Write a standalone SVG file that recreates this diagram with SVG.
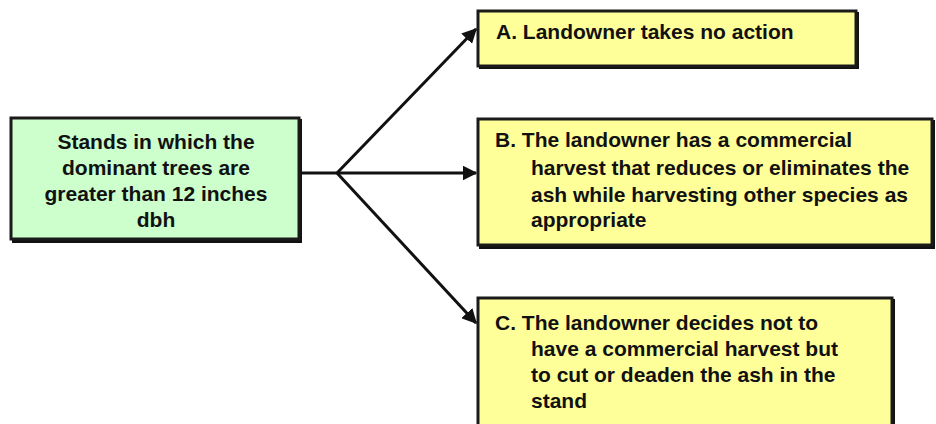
<svg xmlns="http://www.w3.org/2000/svg" width="936" height="424" viewBox="0 0 936 424">
<style>
.box{stroke:#1a1a1a;stroke-width:3}
.shadow{fill:#111}
.green{fill:#ccffcc}
.yellow{fill:#ffff99}
text{font-family:"Liberation Sans",Arial,Helvetica,sans-serif;font-weight:bold;font-size:21px;fill:#111}
.conn{stroke:#111;stroke-width:3;fill:none}
</style>
<defs>
<marker id="arr" viewBox="0 0 10 10" refX="9" refY="5" markerWidth="5" markerHeight="5" orient="auto" markerUnits="strokeWidth">
<path d="M0,0 L10,5 L0,10 z" fill="#111"/>
</marker>
</defs>
<rect width="936" height="424" fill="#ffffff"/>
<g id="connectors">
<line class="conn" x1="300" y1="173" x2="476" y2="173" marker-end="url(#arr)"/>
<line class="conn" x1="337" y1="173" x2="476" y2="29" marker-end="url(#arr)"/>
<line class="conn" x1="337" y1="173" x2="476" y2="323" marker-end="url(#arr)"/>
</g>
<g id="node-stands">
<rect class="shadow" x="12" y="119" width="290" height="124"/>
<rect class="box green" x="11" y="118" width="288" height="121"/>
<text x="156" y="149" text-anchor="middle">Stands in which the</text>
<text x="156" y="175" text-anchor="middle">dominant trees are</text>
<text x="156" y="201" text-anchor="middle">greater than 12 inches</text>
<text x="156" y="227" text-anchor="middle">dbh</text>
</g>
<g id="node-a">
<rect class="shadow" x="479" y="12" width="380" height="57"/>
<rect class="box yellow" x="478" y="11" width="378" height="55"/>
<text x="496" y="39">A. Landowner takes no action</text>
</g>
<g id="node-b">
<rect class="shadow" x="479" y="120" width="456" height="129"/>
<rect class="box yellow" x="478" y="119" width="454" height="126"/>
<text x="495" y="147">B. The landowner has a commercial</text>
<text x="531" y="175">harvest that reduces or eliminates the</text>
<text x="531" y="202">ash while harvesting other species as</text>
<text x="531" y="227">appropriate</text>
</g>
<g id="node-c">
<rect class="shadow" x="479" y="299" width="416" height="130"/>
<rect class="box yellow" x="478" y="298" width="414" height="130"/>
<text x="495" y="330">C. The landowner decides not to</text>
<text x="531" y="356">have a commercial harvest but</text>
<text x="531" y="382">to cut or deaden the ash in the</text>
<text x="531" y="408">stand</text>
</g>
</svg>
